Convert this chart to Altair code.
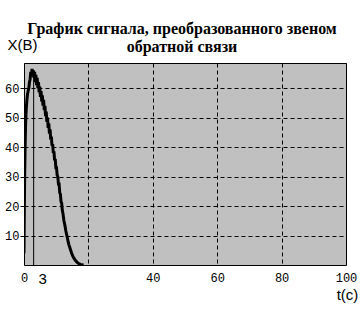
import altair as alt
import pandas as pd

# Signal samples: time t (s) and value X (V)
t_vals = [0, 0.1, 0.2, 0.35, 0.5, 0.7, 0.9, 1.1, 1.3, 1.5, 1.7, 1.9, 2.1, 2.3, 2.5,
          2.7, 2.9, 3.1, 3.3, 3.5, 3.7, 3.9, 4.1, 4.3, 4.5, 4.7, 4.9, 5.1, 5.3, 5.5,
          5.7, 5.9, 6.1, 6.3, 6.5, 6.7, 6.9, 7.1, 7.3, 7.5, 7.7, 7.9, 8.1, 8.3, 8.5,
          8.7, 8.9, 9.1, 9.3, 9.5, 9.7, 9.9, 10.1, 10.3, 10.5, 10.7, 10.9, 11.1, 11.3,
          11.5, 11.7, 11.9, 12.1, 12.4, 12.7, 13.0, 13.3, 13.6, 13.9, 14.2, 14.5, 14.8,
          15.1, 15.5, 16.0, 16.5, 17.0, 17.5, 18.0, 18.5]
x_vals = [4, 18, 30, 40, 48, 53, 56, 58, 59, 60, 62, 63, 65.5, 64, 66.5,
          64.5, 66, 63.5, 65.5, 62, 64.5, 61, 63.5, 60, 62, 58.5, 60.5, 57, 59, 55.5,
          57.5, 54, 56, 52.5, 54, 50.5, 52, 48.5, 50, 46.5, 48, 44.5, 46, 42.5, 43.5,
          40.5, 41, 38, 38.5, 35.5, 36, 33, 33, 30.5, 30, 27.5, 27.5, 24.5, 24,
          21.5, 21, 18.5, 17.5, 15, 13.5, 11.5, 10, 8.5, 7, 6, 5, 4,
          3.2, 2.3, 1.5, 0.9, 0.5, 0.2, 0.05, 0]

marker_t = [3]
marker_top = [65.5]
marker_label = ["3"]

x_ticks = [0, 20, 40, 60, 80, 100]
y_ticks = [10, 20, 30, 40, 50, 60]

title_lines = ["График сигнала, преобразованного звеном", "обратной связи"]

df = pd.DataFrame({"t": t_vals, "x": x_vals})
mk = pd.DataFrame({"t": marker_t, "top": marker_top, "bottom": [0] * len(marker_t),
                   "label": marker_label})

xs = alt.Scale(domain=[0, 100], nice=False)
ys = alt.Scale(domain=[0, 68.5], nice=False)

x_axis = alt.Axis(values=x_ticks, grid=True, gridColor="black", gridDash=[4, 3],
                  gridOpacity=1, gridWidth=1, ticks=False, domain=False,
                  labelFont="Liberation Mono", labelFontSize=12, labelColor="black",
                  labelPadding=7, labelFlush=False, labelOverlap=False,
                  labelExpr="datum.value == 20 ? '' : datum.label",
                  title="t(c)", titleFont="Liberation Sans", titleFontSize=15,
                  titleFontWeight="normal", titleColor="black", titleAngle=0,
                  titleX=323, titleY=29, titleAlign="center", titleBaseline="middle")
y_axis = alt.Axis(values=y_ticks, grid=True, gridColor="black", gridDash=[4, 3],
                  gridOpacity=1, gridWidth=1, ticks=True, tickSize=4,
                  tickColor="black", domain=False,
                  labelFont="Liberation Mono", labelFontSize=12, labelColor="black",
                  labelPadding=1, labelFlush=False, labelOverlap=False,
                  title="X(B)", titleFont="Liberation Sans", titleFontSize=15,
                  titleFontWeight="normal", titleColor="black", titleAngle=0,
                  titleX=-17, titleY=-19, titleAlign="left", titleBaseline="middle")

line = alt.Chart(df).mark_line(color="black", strokeWidth=3, clip=True).encode(
    x=alt.X("t:Q", scale=xs, axis=x_axis),
    y=alt.Y("x:Q", scale=ys, axis=y_axis),
)

rule = alt.Chart(mk).mark_rule(color="black", strokeWidth=1).encode(
    x=alt.X("t:Q", scale=xs),
    y=alt.Y("bottom:Q", scale=ys),
    y2="top:Q",
)

lbl = alt.Chart(mk).mark_text(font="Liberation Sans", fontSize=15, color="black",
                              dx=9, dy=14, baseline="middle", align="center").encode(
    x=alt.X("t:Q", scale=xs),
    y=alt.Y("bottom:Q", scale=ys),
    text="label:N",
)

chart = alt.layer(rule, line, lbl).properties(
    width=322, height=202,
    title=alt.TitleParams(text=title_lines, font="Liberation Serif", fontSize=16,
                          fontWeight="bold", color="black", lineHeight=18,
                          anchor="middle", offset=9, dy=27, dx=-3),
    autosize=alt.AutoSizeParams(type="none"),
    padding={"left": 24, "top": 63, "right": 17, "bottom": 45},
    background="white",
).configure_view(fill="#C0C0C0", stroke="black", strokeWidth=1)

chart.save("out.html", embed_options={"renderer": "svg", "actions": False})
